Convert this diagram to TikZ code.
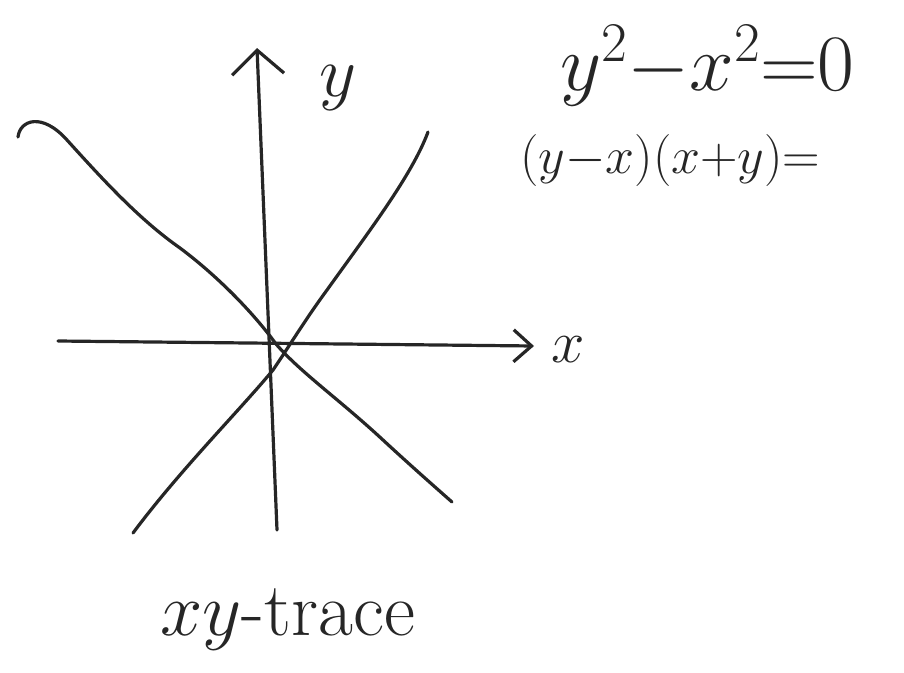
\documentclass[tikz,border=0pt]{standalone}
\usepackage{fix-cm}
\usetikzlibrary{arrows.meta}
\begin{document}
\begin{tikzpicture}[x=1pt,y=-1pt,
  ink/.style={line width=3.2pt,line cap=round,line join=round,black!85},
  lbl/.style={inner sep=0pt,text=black!85}]
\useasboundingbox (0,0) rectangle (904,672);
% axes
\coordinate (ytop) at (257,48);
\coordinate (ybot) at (277,530);
\coordinate (xl) at (58,341);
\coordinate (xr) at (534,346);
\draw[ink,-{Straight Barb[length=24pt,width=52pt,line width=3.2pt]}] (ybot) -- (ytop);
\draw[ink,-{Straight Barb[length=18pt,width=32pt,line width=3.2pt]}] (xl) -- (xr);
% curves
\draw[ink] (18,137) .. controls (20,120) and (42,112) .. (67,140)
  .. controls (105,182) and (140,220) .. (180,248)
  .. controls (220,278) and (255,315) .. (276,344)
  .. controls (300,372) and (340,400) .. (383,440)
  .. controls (410,465) and (435,487) .. (452,502);
\draw[ink] (428,132) .. controls (412,175) and (370,230) .. (327,290)
  .. controls (305,320) and (290,345) .. (273,370)
  .. controls (240,410) and (180,470) .. (133,533);
% labels
\node[lbl] (ylab) at (338,88) {\fontsize{72}{72}\selectfont$y$};
\node[lbl] (xlab) at (568,350) {\fontsize{60}{60}\selectfont$x$};
\node[lbl,anchor=west] (eq1) at (560,66) {\fontsize{80}{80}\selectfont$y^2{-}x^2{=}0$};
\node[lbl,anchor=west] (eq2) at (520,160) {\fontsize{52}{52}\selectfont$(y{-}x)(x{+}y){=}$};
\node[lbl] (trace) at (288,620) {\fontsize{76}{76}\selectfont $xy$-trace};
\end{tikzpicture}
\end{document}
